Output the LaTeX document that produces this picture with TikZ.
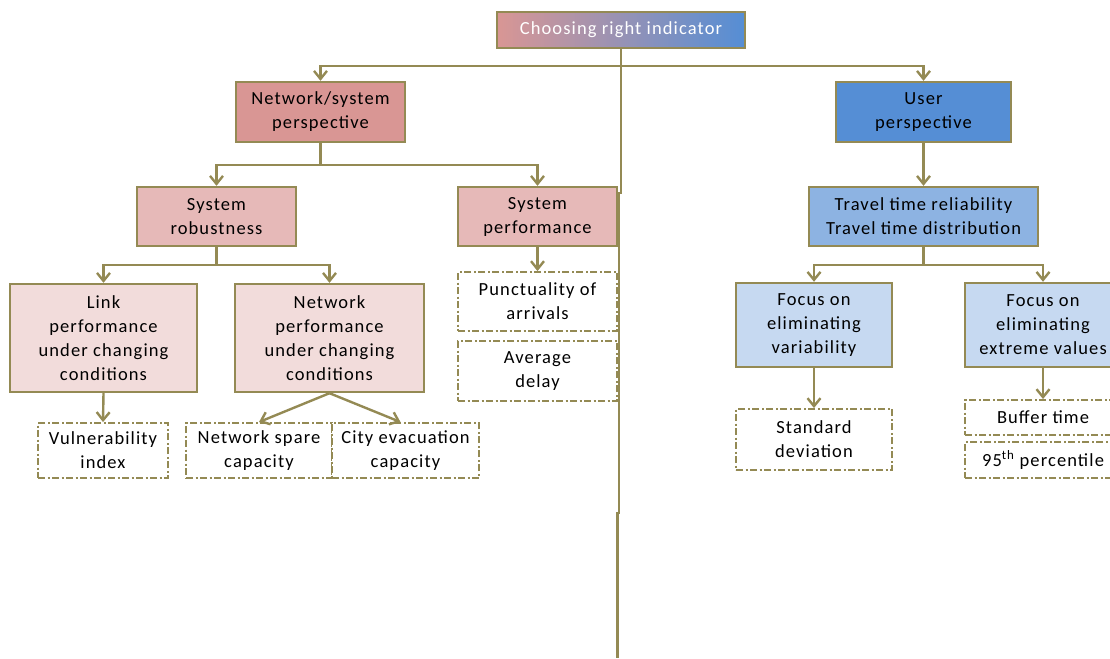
\documentclass[tikz,border=0pt]{standalone}
\usepackage{fontspec}
\setmainfont{Carlito}[LetterSpace=6]
\usetikzlibrary{arrows.meta}
\definecolor{lineC}{HTML}{948A54}
\definecolor{pinkD}{HTML}{D99694}
\definecolor{pinkM}{HTML}{E6B9B8}
\definecolor{pinkL}{HTML}{F2DCDB}
\definecolor{blueD}{HTML}{558ED5}
\definecolor{blueM}{HTML}{8DB3E2}
\definecolor{blueL}{HTML}{C6D9F1}
\tikzset{
  box/.style={draw=lineC, line width=2.4pt, rectangle, align=center, inner sep=2pt,
    font=\fontsize{18.5}{24}\selectfont, text=black},
  dbox/.style={draw=lineC, line width=1.9pt, rectangle, align=center, inner sep=2pt,
    dash pattern=on 7pt off 2.5pt on 2pt off 2.5pt, fill=white,
    font=\fontsize{18.5}{24}\selectfont, text=black},
  conn/.style={draw=lineC, line width=2.4pt},
  arr/.style={conn, -{Straight Barb[length=8pt,width=13pt,line width=2.4pt]}},
}
\begin{document}
\begin{tikzpicture}[x=1pt,y=-1pt]
\useasboundingbox (0,0) rectangle (1110,658);
% top
\node[box, left color=pinkD, right color=blueD, text=white, minimum width=248pt, minimum height=36pt] (top) at (621,30) {Choosing right indicator};
% level 1
\node[box, fill=pinkD, minimum width=169pt, minimum height=60pt] (ns) at (320.5,112) {Network/system\\perspective};
\node[box, fill=blueD, minimum width=175pt, minimum height=60pt] (up) at (923.5,112) {User\\perspective};
% level 2
\node[box, fill=pinkM, minimum width=159pt, minimum height=59pt] (sr) at (216.5,216.5) {System\\robustness};
\node[box, fill=pinkM, minimum width=159pt, minimum height=59pt] (sp) at (537.5,216.5) {System\\performance};
\node[box, fill=blueM, minimum width=229pt, minimum height=59pt] (tt) at (923.5,216.5) {Travel time reliability\\Travel time distribution};
% level 3
\node[box, fill=pinkL, minimum width=187pt, minimum height=108pt] (link) at (103.5,338) {Link\\performance\\under changing\\conditions};
\node[box, fill=pinkL, minimum width=189pt, minimum height=108pt] (np) at (329.5,338) {Network\\performance\\under changing\\conditions};
\node[dbox, minimum width=159pt, minimum height=59pt] (punct) at (537.5,301.5) {Punctuality of\\arrivals};
\node[dbox, minimum width=159pt, minimum height=60pt] (avg) at (537.5,371) {Average\\delay};
\node[box, fill=blueL, minimum width=156pt, minimum height=84pt] (fv) at (814,325) {Focus on\\eliminating\\variability};
\node[box, fill=blueL, minimum width=156pt, minimum height=84pt] (fe) at (1043,325) {Focus on\\eliminating\\extreme values};
% level 4
\node[dbox, minimum width=130pt, minimum height=55pt] (vuln) at (103,450.5) {Vulnerability\\index};
\node[dbox, minimum width=146pt, minimum height=55pt] (spare) at (259,450.5) {Network spare\\capacity};
\node[dbox, minimum width=147pt, minimum height=55pt] (city) at (405.5,450.5) {City evacuation\\capacity};
\node[dbox, minimum width=156pt, minimum height=61pt] (sd) at (814,439.5) {Standard\\deviation};
\node[dbox, minimum width=156pt, minimum height=35pt] (buf) at (1043,417.5) {Buffer time};
\node[dbox, minimum width=156pt, minimum height=36pt] (p95) at (1043,460) {95\textsuperscript{th} percentile};
% connectors
\coordinate (tail) at (617.5,658);
\draw[arr] (top.south) -- ++(0,17) -| (ns.north);
\draw[arr] (top.south) -- ++(0,17) -| (up.north);
\draw[conn] (top.south) -- ++(0,144) -- ++(-2,0) -- ++(0,320) -- ++(-1.5,0) -- (tail);
\draw[arr] (ns.south) -- ++(0,22) -| (sr.north);
\draw[arr] (ns.south) -- ++(0,22) -| (sp.north);
\draw[arr] (up.south) -- (tt.north);
\draw[arr] (sr.south) -- ++(0,18) -| (link.north);
\draw[arr] (sr.south) -- ++(0,18) -| (np.north);
\draw[arr] (sp.south) -- (punct.north);
\draw[arr] (tt.south) -- ++(0,18) -| (fv.north);
\draw[arr] (tt.south) -- ++(0,18) -| (fe.north);
\draw[arr] (link.south) -- (vuln.north);
\draw[arr] (np.south) -- (spare.north);
\draw[arr] (np.south) -- ([xshift=-5pt]city.north);
\draw[arr] (fv.south) -- (sd.north);
\draw[arr] (fe.south) -- (buf.north);
\end{tikzpicture}
\end{document}
